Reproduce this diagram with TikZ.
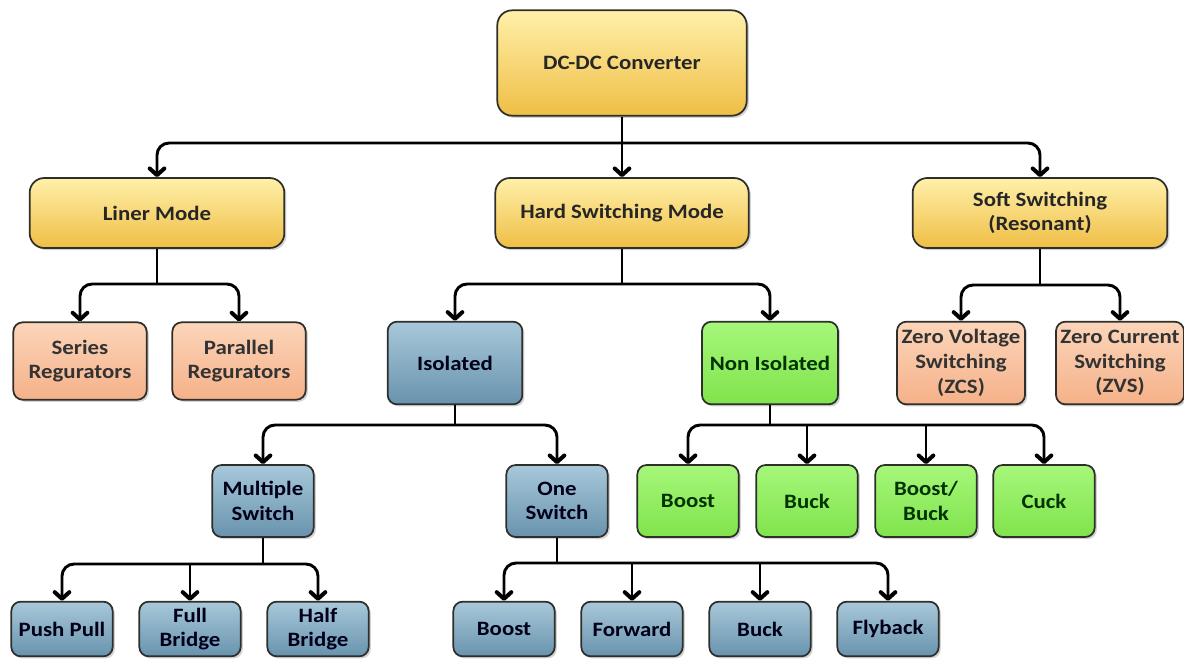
\documentclass[tikz,border=0pt]{standalone}
\usepackage{fontspec}
\setmainfont{Carlito}[FakeStretch=1.12]
\usetikzlibrary{arrows.meta,shadows}
\definecolor{ytop}{HTML}{FFF0AA}
\definecolor{ybot}{HTML}{EFBE45}
\definecolor{stop}{HTML}{FCD5BA}
\definecolor{sbot}{HTML}{F5B189}
\definecolor{btop}{HTML}{A8C8DA}
\definecolor{bbot}{HTML}{6893AD}
\definecolor{gtop}{HTML}{A6F77A}
\definecolor{gbot}{HTML}{80E34C}
\definecolor{edge}{HTML}{2E2E2A}
\tikzset{
  box/.style={draw=edge, line width=1.3pt, rounded corners=7pt, align=center,
    inner sep=0pt, font=\fontsize{15.3}{18.5}\selectfont\bfseries,
    drop shadow={shadow xshift=1.6pt, shadow yshift=-1.6pt, opacity=.35}},
  ybox/.style={box, top color=ytop, bottom color=ybot, text=black!85, rounded corners=11pt},
  sbox/.style={box, top color=stop, bottom color=sbot, text=black!80},
  bbox/.style={box, top color=btop, bottom color=bbot, text=black!90!blue},
  gbox/.style={box, top color=gtop, bottom color=gbot, text=black!80!green},
  conn/.style={line width=2.2pt, black},
  arr/.style={conn, -{Straight Barb[length=5pt,width=11pt,line width=3pt,round]}, rounded corners=9pt},
}
\begin{document}
\begin{tikzpicture}[x=0.75pt,y=-0.75pt]
\useasboundingbox (0,0) rectangle (1184,658);
% level 0
\node[ybox, minimum width=187pt, minimum height=79pt] (dc) at (622,63) {DC-DC Converter};
% level 1
\node[ybox, minimum width=191pt, minimum height=52.5pt] (liner) at (157,213) {Liner Mode};
\node[ybox, minimum width=190pt, minimum height=52.5pt] (hard) at (622,213) {Hard Switching Mode};
\node[ybox, minimum width=191pt, minimum height=52.5pt] (soft) at (1040,213) {Soft Switching\\(Resonant)};
% level 2
\node[sbox, minimum width=100pt, minimum height=58pt] (ser) at (80,361) {Series\\Regurators};
\node[sbox, minimum width=100pt, minimum height=58pt] (par) at (239,361) {Parallel\\Regurators};
\node[bbox, minimum width=101pt, minimum height=62pt] (iso) at (455,363) {Isolated};
\node[gbox, minimum width=102pt, minimum height=62pt] (non) at (770,363) {Non Isolated};
\node[sbox, minimum width=96pt, minimum height=62pt] (zvs) at (961,363) {Zero Voltage\\Switching\\(ZCS)};
\node[sbox, minimum width=96pt, minimum height=62pt] (zcs) at (1120,363) {Zero Current\\Switching\\(ZVS)};
% level 3
\node[bbox, minimum width=76pt, minimum height=54pt] (mul) at (263,501) {Multiple\\Switch};
\node[bbox, minimum width=76pt, minimum height=54pt] (one) at (557,501) {One\\Switch};
\node[gbox, minimum width=76pt, minimum height=54pt] (gboost) at (688,501) {Boost};
\node[gbox, minimum width=76pt, minimum height=54pt] (gbuck) at (807,501) {Buck};
\node[gbox, minimum width=76pt, minimum height=54pt] (gbb) at (926,501) {Boost/\\Buck};
\node[gbox, minimum width=76pt, minimum height=54pt] (gcuck) at (1044,501) {Cuck};
% level 4
\node[bbox, minimum width=76pt, minimum height=41pt] (pp) at (62,629) {Push Pull};
\node[bbox, minimum width=76pt, minimum height=41pt] (fb) at (190,629) {Full\\Bridge};
\node[bbox, minimum width=76pt, minimum height=41pt] (hb) at (318,629) {Half\\Bridge};
\node[bbox, minimum width=76pt, minimum height=41pt] (bboost) at (504,629) {Boost};
\node[bbox, minimum width=76pt, minimum height=41pt] (fwd) at (632,629) {Forward};
\node[bbox, minimum width=76pt, minimum height=41pt] (bbuck) at (760,629) {Buck};
\node[bbox, minimum width=76pt, minimum height=41pt] (fly) at (888,629) {Flyback};
% junctions
\coordinate (j0) at (dc.south |- 0,143);
\coordinate (j1) at (liner.south |- 0,284);
\coordinate (j2) at (hard.south |- 0,284);
\coordinate (j3) at (soft.south |- 0,285);
\coordinate (j4) at (iso.south |- 0,425);
\coordinate (j5) at (non.south |- 0,425);
\coordinate (j6) at (mul.south |- 0,564);
\coordinate (j7) at (one.south |- 0,563);
% connectors
\draw[arr] (dc.south) -- (hard.north);
\draw[arr] (j0) -| (liner.north);
\draw[arr] (j0) -| (soft.north);
\draw[conn] (liner.south) -- (j1);
\draw[arr] (j1) -| (ser.north);
\draw[arr] (j1) -| (par.north);
\draw[conn] (hard.south) -- (j2);
\draw[arr] (j2) -| (iso.north);
\draw[arr] (j2) -| (non.north);
\draw[conn] (soft.south) -- (j3);
\draw[arr] (j3) -| (zvs.north);
\draw[arr] (j3) -| (zcs.north);
\draw[conn] (iso.south) -- (j4);
\draw[arr] (j4) -| (mul.north);
\draw[arr] (j4) -| (one.north);
\draw[conn] (non.south) -- (j5);
\draw[arr] (j5) -| (gboost.north);
\draw[arr] (j5) -| (gcuck.north);
\draw[arr] (gbuck.north |- j5) -- (gbuck.north);
\draw[arr] (gbb.north |- j5) -- (gbb.north);
\draw[conn] (mul.south) -- (j6);
\draw[arr] (j6) -| (pp.north);
\draw[arr] (j6) -| (hb.north);
\draw[arr] (fb.north |- j6) -- (fb.north);
\draw[conn] (one.south) -- (j7);
\draw[arr] (j7) -| (bboost.north);
\draw[arr] (j7) -| (fly.north);
\draw[arr] (fwd.north |- j7) -- (fwd.north);
\draw[arr] (bbuck.north |- j7) -- (bbuck.north);
\end{tikzpicture}
\end{document}
